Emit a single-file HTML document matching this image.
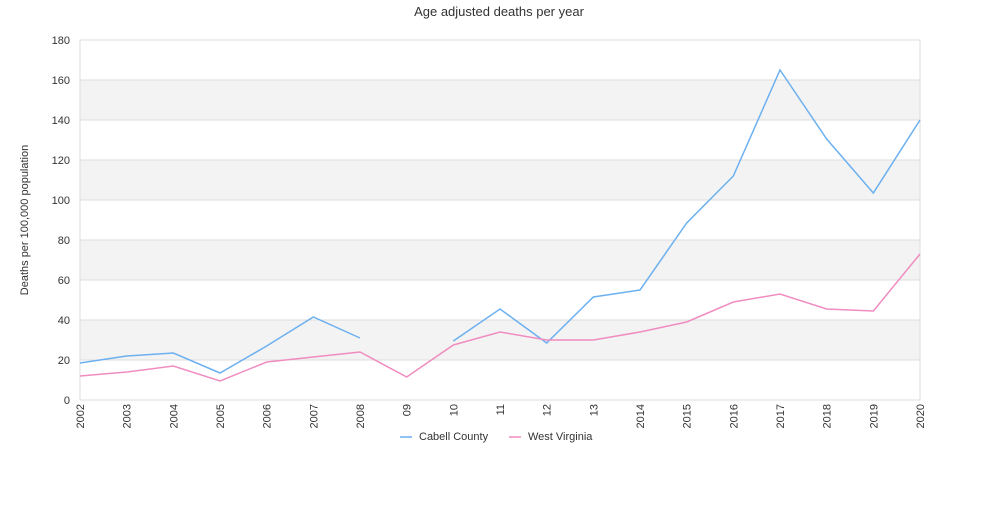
<!DOCTYPE html>
<html><head><meta charset="utf-8"><style>
body{margin:0;background:#fff;font-family:"Liberation Sans",sans-serif}
svg text{font-family:"Liberation Sans",sans-serif}
</style></head><body>
<svg id="chart" width="1000" height="500">
<text x="499" y="16" text-anchor="middle" font-size="13" fill="#333">Age adjusted deaths per year</text>
<g id="bands"></g><g id="grid"></g><g id="yticks"></g><g id="xticks"></g><g id="lines"></g>
<text transform="translate(28,220) rotate(-90)" text-anchor="middle" font-size="11" fill="#333">Deaths per 100,000 population</text>
<g>
<g><line x1="400" y1="437" x2="412" y2="437" stroke="#6cb0f0" stroke-width="1.5"/><text x="419" y="440" font-size="11" fill="#333">Cabell County</text></g>
<g><line x1="509" y1="437" x2="521" y2="437" stroke="#f08cc0" stroke-width="1.5"/><text x="528" y="440" font-size="11" fill="#333">West Virginia</text></g>
</g>
</svg>
<script>
const categories=["2002","2003","2004","2005","2006","2007","2008","09","10","11","12","13","2014","2015","2016","2017","2018","2019","2020"];
const cabell=[18.5,22,23.5,13.5,27,41.5,31,null,29.5,45.5,28.5,51.5,55,88.5,112,165,130.5,103.5,140];
const wv=[12,14,17,9.5,19,21.5,24,11.5,27.5,34,30,30,34,39,49,53,45.5,44.5,73];
const yTicks=[0,20,40,60,80,100,120,140,160,180];
const X0=80,X1=920,Y0=400,Y1=40,YMAX=180;
const ns="http://www.w3.org/2000/svg";
const x=i=>X0+i*(X1-X0)/(categories.length-1);
const y=v=>Y0-v*(Y0-Y1)/YMAX;
function mk(t,a,p){const e=document.createElementNS(ns,t);for(const k in a)e.setAttribute(k,a[k]);p.appendChild(e);return e;}
const bands=document.getElementById('bands'),grid=document.getElementById('grid'),yt=document.getElementById('yticks'),xt=document.getElementById('xticks'),ln=document.getElementById('lines');
for(let k=0;k<yTicks.length-1;k++){if(k%2===1){const r=mk('rect',{x:X0,y:y(yTicks[k+1]),width:X1-X0,height:y(yTicks[k])-y(yTicks[k+1]),fill:'#f3f3f3'},bands);

}}
yTicks.forEach(v=>{const l=mk('line',{x1:X0,x2:X1,y1:y(v),y2:y(v),stroke:'#dcdcdc'},grid);


const t=mk('text',{x:X0-10,y:y(v)+4,'text-anchor':'end','font-size':11,fill:'#333'},yt);t.textContent=v;

});
mk('line',{x1:X0,x2:X0,y1:Y1,y2:Y0,stroke:'#dcdcdc'},grid);
mk('line',{x1:X1,x2:X1,y1:Y1,y2:Y0,stroke:'#dcdcdc'},grid);
categories.forEach((c,i)=>{const t=mk('text',{transform:`translate(${x(i)+4},404) rotate(-90)`,'text-anchor':'end','font-size':11,fill:'#333'},xt);t.textContent=c;

});
function draw(data,color,name){let d='',pen=false;data.forEach((v,i)=>{if(v==null){pen=false;return;}d+=(pen?'L':'M')+x(i)+','+y(v)+' ';pen=true;});
const p=mk('path',{d:d,fill:'none',stroke:color,'stroke-width':1.5},ln);

}
draw(cabell,'#6cb0f0','cabell-county-line');
draw(wv,'#f08cc0','west-virginia-line');
</script>
</body></html>
